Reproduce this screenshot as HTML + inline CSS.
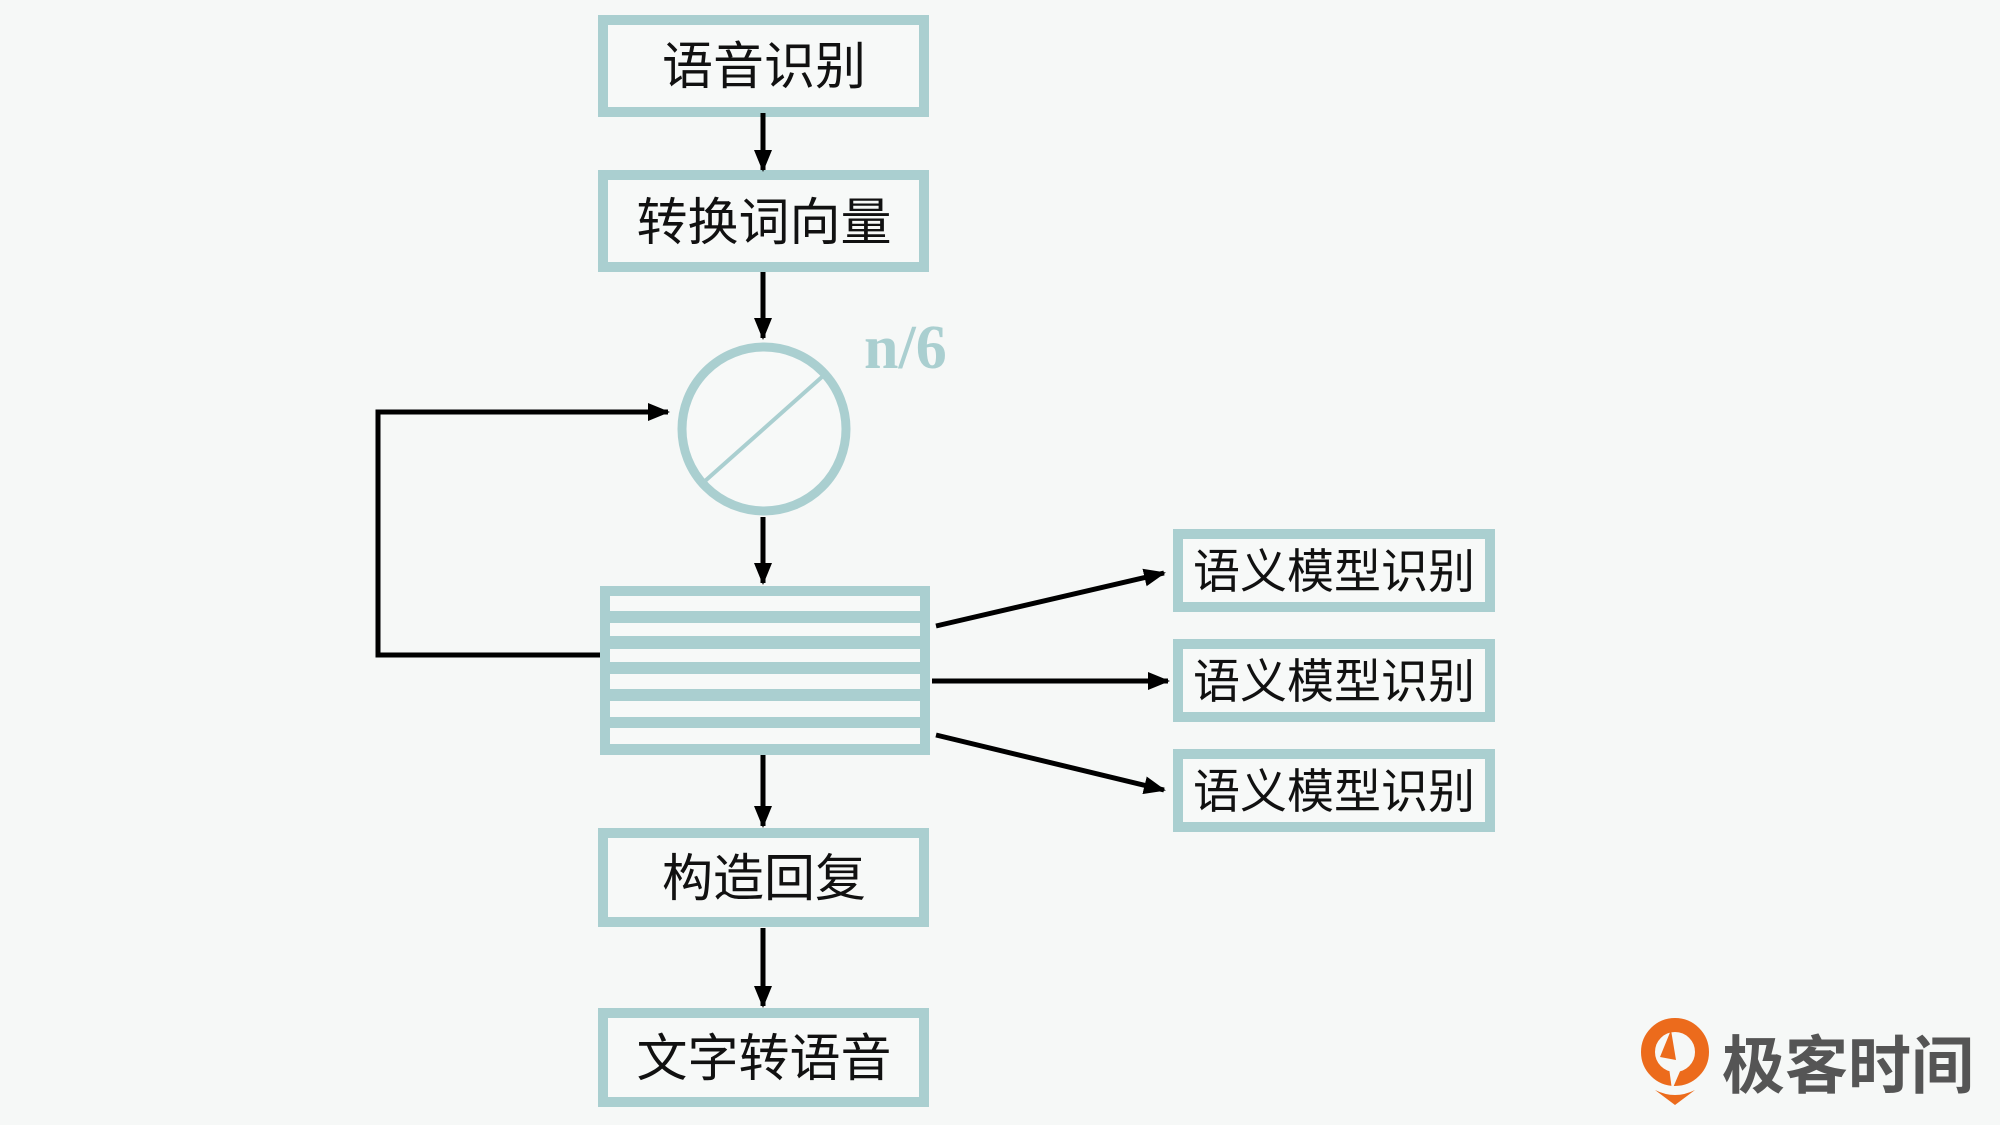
<!DOCTYPE html>
<html><head><meta charset="utf-8"><style>
html,body{margin:0;padding:0;background:#f6f8f7;}
svg{display:block}
text{font-family:"Liberation Sans","Noto Sans CJK SC",sans-serif;}
</style></head><body>
<svg width="2000" height="1125" viewBox="0 0 2000 1125" xmlns="http://www.w3.org/2000/svg">
<defs>
<marker id="b" markerWidth="22" markerHeight="22" refX="20" refY="11" orient="auto" markerUnits="userSpaceOnUse"><path d="M0,2 L22,11 L0,20 z" fill="#000"/></marker></defs>
<rect width="2000" height="1125" fill="#f6f8f7"/>
<g fill="#f7f9f8" stroke="#aacfd0" stroke-width="10">
<rect x="603" y="20" width="321" height="92"/>
<rect x="603" y="175" width="321" height="92"/>
<rect x="603" y="833" width="321" height="89"/>
<rect x="603" y="1013" width="321" height="89"/>
<rect x="1178" y="534" width="312" height="73"/>
<rect x="1178" y="644" width="312" height="73"/>
<rect x="1178" y="754" width="312" height="73"/>
</g>
<rect x="600" y="586" width="330" height="169" fill="#aacfd0"/>
<g fill="#f7f9f8">
<rect x="610" y="596" width="310" height="15"/>
<rect x="610" y="623" width="310" height="13"/>
<rect x="610" y="649" width="310" height="13"/>
<rect x="610" y="674" width="310" height="15"/>
<rect x="610" y="701" width="310" height="16"/>
<rect x="610" y="728" width="310" height="16"/>
</g>
<ellipse cx="764" cy="429" rx="82" ry="82" fill="#f7f9f8" stroke="#aacfd0" stroke-width="9"/>
<line x1="705" y1="481" x2="823" y2="376" stroke="#aacfd0" stroke-width="4"/>
<text x="864" y="368" font-weight="bold" font-size="62" fill="#aacfd0" style="font-family:'Liberation Serif',serif">n/6</text>
<g stroke="#000" stroke-width="5" fill="none" marker-end="url(#b)">
<line x1="763" y1="113" x2="763" y2="170"/>
<line x1="763" y1="272" x2="763" y2="338"/>
<line x1="763" y1="517" x2="763" y2="583"/>
<line x1="763" y1="755" x2="763" y2="826"/>
<line x1="763" y1="928" x2="763" y2="1006"/>
<polyline points="600,655 378,655 378,412 668,412"/>
<line x1="936" y1="626" x2="1164" y2="573"/>
<line x1="932" y1="681" x2="1168" y2="681"/>
<line x1="936" y1="735" x2="1164" y2="790"/>
</g>
<g font-size="51" fill="#111" text-anchor="middle">
<text x="764" y="84">语音识别</text>
<text x="764" y="240">转换词向量</text>
<text x="764" y="896">构造回复</text>
<text x="764" y="1076">文字转语音</text>
</g>
<g font-size="47" fill="#111" text-anchor="middle">
<text x="1334" y="588">语义模型识别</text>
<text x="1334" y="698">语义模型识别</text>
<text x="1334" y="808">语义模型识别</text>
</g>
<circle cx="1675" cy="1052" r="27" fill="none" stroke="#ec6b1c" stroke-width="14"/>
<path d="M1668,1060 L1672,1090 L1684,1062" fill="#f6f8f7"/>
<path d="M1660,1057 L1671,1030 L1676,1060 z" fill="#ec6b1c"/>
<path d="M1655,1090 Q1675,1100 1695,1090 L1675,1105 z" fill="#ec6b1c"/>
<text x="1722" y="1088" font-size="63" font-weight="bold" fill="#555">极客时间</text>
</svg>
</body></html>
